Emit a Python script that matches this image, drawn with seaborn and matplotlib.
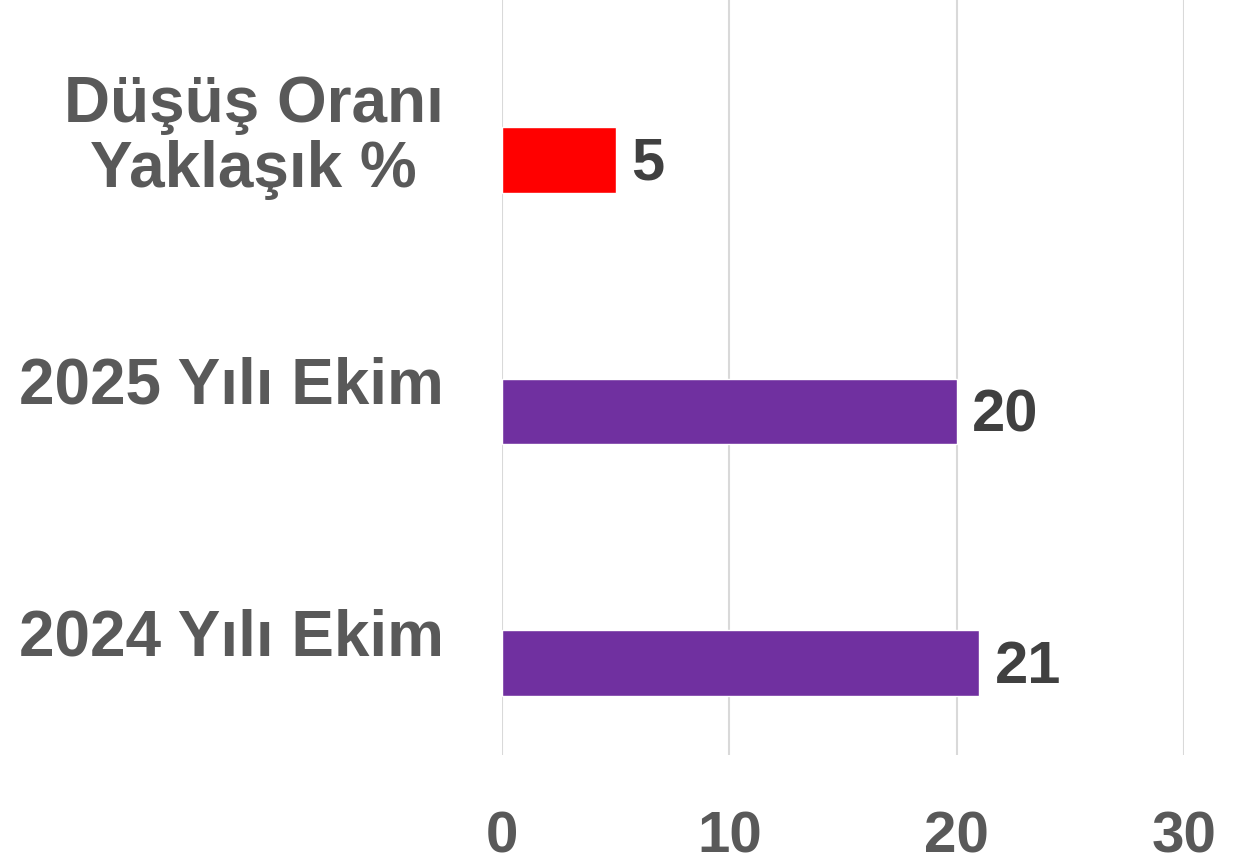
import matplotlib
matplotlib.use("Agg")
import matplotlib.pyplot as plt
import matplotlib.transforms as mtransforms
import seaborn as sns
import pandas as pd

categories = ["Düşüş Oranı\nYaklaşık %", "2025 Yılı Ekim", "2024 Yılı Ekim"]
values = [5, 20, 21]
bar_colors = ["#FF0000", "#7030A0", "#7030A0"]
xticks = [0, 10, 20, 30]

sns.set_theme(style="white")
plt.rcParams["font.family"] = ["Liberation Sans", "DejaVu Sans"]
plt.rcParams["font.weight"] = "bold"

df = pd.DataFrame({"cat": categories, "val": values})

fig = plt.figure(figsize=(12.6, 8.63), dpi=100)
ax = fig.add_axes([0.3984, 0.1251, 0.5413, 0.8749])

sns.barplot(data=df, y="cat", x="val", hue="cat", palette=bar_colors,
            order=categories, hue_order=categories, width=0.26,
            legend=False, ax=ax, saturation=1, orient="h")

ax.set_xlim(0, 30)
ax.set_ylim(2.366, -0.636)
ax.set_xticks(xticks)
ax.set_xticklabels([str(t) for t in xticks])
ax.set_xlabel("")
ax.set_ylabel("")

ax.grid(axis="x", color="#D9D9D9", linewidth=1.5)
ax.grid(axis="y", visible=False)
ax.set_axisbelow(True)
for s in ax.spines.values():
    s.set_visible(False)

ax.tick_params(axis="x", length=0, pad=40, labelsize=42, labelcolor="#595959")
ax.tick_params(axis="y", length=0, pad=42, labelsize=46, labelcolor="#595959")
for lab in ax.get_xticklabels() + ax.get_yticklabels():
    lab.set_fontweight("bold")
shift = mtransforms.ScaledTranslation(0, 0.31, fig.dpi_scale_trans)
for lab in ax.get_yticklabels():
    lab.set_multialignment("center")
    lab.set_linespacing(1.1)
    lab.set_transform(lab.get_transform() + shift)

for i, v in enumerate(values):
    ax.annotate(str(v), xy=(v, i), xytext=(11, -3), textcoords="offset points",
                ha="left", va="center", fontsize=43, fontweight="bold",
                color="#404040")

fig.savefig("out.png", dpi=100)
